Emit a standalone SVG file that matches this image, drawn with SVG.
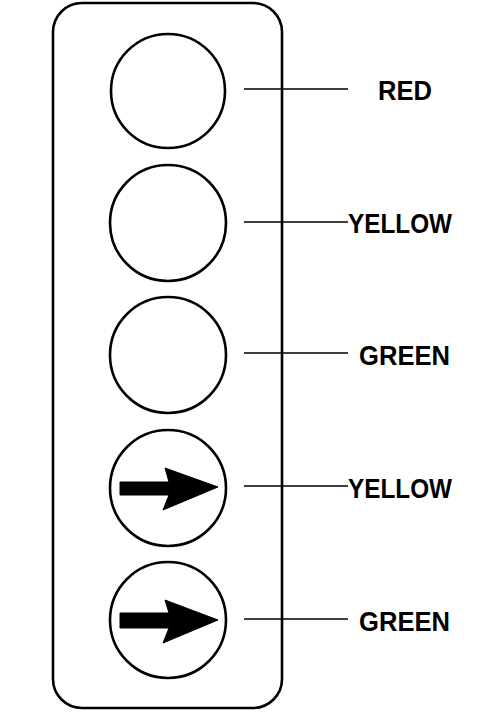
<svg xmlns="http://www.w3.org/2000/svg" width="485" height="719" viewBox="0 0 485 719">
<style>
.frame{fill:none;stroke:#000;stroke-width:2.6}
.lamp{fill:none;stroke:#000;stroke-width:2.6}
.lead{stroke:#000;stroke-width:1.6;fill:none}
.arrow{fill:#000;stroke:#000;stroke-width:1}
.lbl{font-family:"Liberation Sans",Arial,sans-serif;font-size:27px;font-weight:bold;fill:#000}
</style>
<rect width="485" height="719" fill="#fff"/>
<g id="housing"><rect class="frame" x="53" y="3" width="229" height="705" rx="29" ry="29"/></g>
<g id="lamp-red"><circle class="lamp" cx="168" cy="91" r="57"/></g>
<g id="lamp-yellow"><circle class="lamp" cx="168" cy="223" r="58"/></g>
<g id="lamp-green"><circle class="lamp" cx="168" cy="355" r="58"/></g>
<g id="lamp-yellow-arrow"><circle class="lamp" cx="168" cy="488" r="58"/>
<polygon class="arrow" points="120,482 169,482 165,468 218,487 163,510 169,495 120,495"/></g>
<g id="lamp-green-arrow"><circle class="lamp" cx="168" cy="620" r="58"/>
<polygon class="arrow" points="120,613 169,613 165,600 218,620 163,643 169,628 120,628"/></g>
<g id="connectors">
<line class="lead" x1="244" y1="89" x2="348" y2="89"/>
<line class="lead" x1="244" y1="222" x2="348" y2="222"/>
<line class="lead" x1="244" y1="353" x2="348" y2="353"/>
<line class="lead" x1="244" y1="486" x2="348" y2="486"/>
<line class="lead" x1="244" y1="619" x2="348" y2="619"/>
</g>
<g id="labels">
<text class="lbl" x="378" y="100" textLength="54" lengthAdjust="spacingAndGlyphs">RED</text>
<text class="lbl" x="348" y="233" textLength="104" lengthAdjust="spacingAndGlyphs">YELLOW</text>
<text class="lbl" x="359" y="365" textLength="91" lengthAdjust="spacingAndGlyphs">GREEN</text>
<text class="lbl" x="348" y="498" textLength="104" lengthAdjust="spacingAndGlyphs">YELLOW</text>
<text class="lbl" x="359" y="631" textLength="91" lengthAdjust="spacingAndGlyphs">GREEN</text>
</g>
</svg>
